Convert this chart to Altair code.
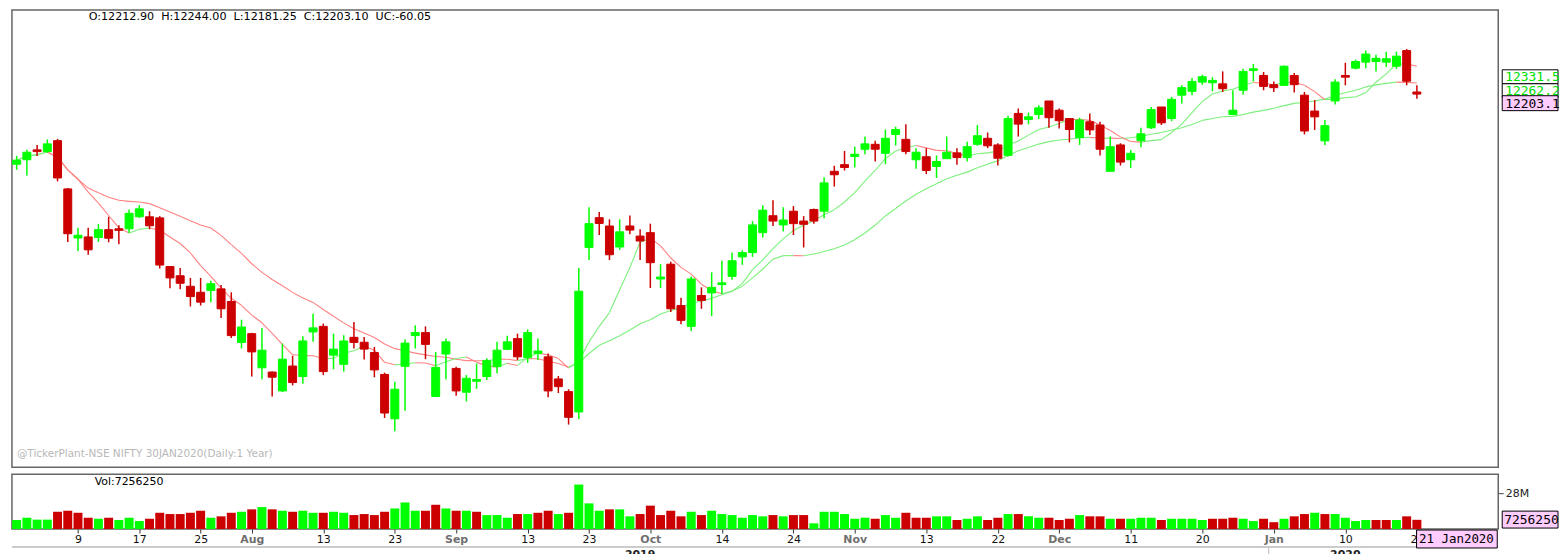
import altair as alt
import pandas as pd

# ---------------- data ----------------
opens = [11876, 11897, 11943, 11935, 11986, 11761, 11532, 11537, 11534, 11571,
         11575, 11575, 11631, 11631, 11626, 11399, 11356, 11307, 11279, 11287,
         11295, 11236, 11045, 11086, 10927, 10907, 10819, 10935, 10886, 11094,
         11120, 10986, 10943, 11069, 11046, 10998, 10896, 10689, 10934, 11077,
         11091, 10793, 10991, 10924, 10813, 10864, 10886, 10932, 11013, 11063,
         10974, 10994, 10978, 10875, 10816, 10721, 11488, 11627, 11588, 11490,
         11588, 11541, 11557, 11341, 11410, 11217, 11120, 11264, 11276, 11315,
         11353, 11444, 11464, 11557, 11636, 11593, 11657, 11611, 11665, 11657,
         11843, 11874, 11912, 11946, 11969, 11927, 12015, 11992, 11897, 11911,
         11866, 11902, 11929, 11907, 11969, 11997, 11966, 11917, 12113, 12085,
         12108, 12171, 12128, 12089, 12000, 12074, 12059, 11843, 11966, 11897,
         11986, 12046, 12143, 12089, 12198, 12216, 12259, 12256, 12251, 12108,
         12221, 12313, 12290, 12247, 12244, 12290, 12198, 12124, 11985, 12171,
         12290, 12324, 12352, 12355, 12352, 12333, 12406, 12212.90]
highs = [11915, 11944, 11966, 11992, 11994, 11765, 11580, 11580, 11598, 11631,
         11591, 11665, 11685, 11657, 11634, 11400, 11392, 11346, 11346, 11333,
         11313, 11279, 11151, 11090, 11112, 10910, 11040, 10983, 11074, 11179,
         11133, 11086, 11079, 11140, 11071, 11024, 10904, 10862, 11059, 11125,
         11120, 11001, 11063, 10932, 10893, 10947, 10971, 11048, 11076, 11086,
         11106, 11063, 10994, 10889, 10827, 11392, 11676, 11653, 11619, 11619,
         11637, 11573, 11599, 11410, 11421, 11253, 11352, 11302, 11372, 11426,
         11464, 11475, 11611, 11685, 11708, 11676, 11681, 11634, 11670, 11815,
         11869, 11938, 11958, 12005, 11986, 12038, 12051, 12062, 11951, 11951,
         11917, 12005, 11951, 11981, 12059, 12024, 11974, 12102, 12136, 12117,
         12151, 12171, 12136, 12089, 12093, 12113, 12074, 12005, 11974, 11943,
         12046, 12143, 12143, 12190, 12244, 12278, 12293, 12282, 12309, 12221,
         12321, 12344, 12306, 12262, 12336, 12301, 12213, 12175, 12082, 12272,
         12349, 12364, 12406, 12386, 12401, 12401, 12413, 12244.00]
lows = [11850, 11824, 11915, 11930, 11796, 11514, 11472, 11454, 11514, 11512,
        11503, 11557, 11626, 11573, 11390, 11298, 11293, 11213, 11217, 11233,
        11159, 11066, 11017, 10886, 10873, 10793, 10814, 10845, 10852, 11048,
        10893, 10920, 10909, 11017, 10966, 10883, 10693, 10631, 10727, 11017,
        10967, 10793, 10873, 10796, 10770, 10829, 10870, 10901, 11010, 10963,
        10950, 10963, 10790, 10809, 10662, 10688, 11429, 11546, 11429, 11477,
        11549, 11429, 11299, 11299, 11187, 11130, 11099, 11202, 11168, 11272,
        11337, 11407, 11444, 11534, 11588, 11562, 11546, 11488, 11599, 11624,
        11772, 11847, 11861, 11923, 11889, 11876, 11963, 11923, 11855, 11830,
        11812, 11902, 11874, 11889, 11962, 11951, 11870, 11912, 12005, 12062,
        12087, 12046, 12043, 11978, 11966, 12012, 11917, 11843, 11870, 11858,
        11955, 12040, 12059, 12077, 12159, 12198, 12247, 12216, 12213, 12108,
        12200, 12262, 12221, 12213, 12241, 12210, 12015, 12036, 11966, 12154,
        12244, 12318, 12324, 12309, 12329, 12321, 12244, 12181.25]
closes = [11895, 11932, 11935, 11971, 11812, 11552, 11545, 11477, 11571, 11531,
          11568, 11647, 11668, 11589, 11406, 11346, 11321, 11259, 11233, 11319,
          11202, 11077, 11117, 11001, 11009, 10883, 10967, 10858, 11052, 11113,
          10909, 11014, 11052, 11045, 11014, 10917, 10716, 10827, 11042, 11091,
          11036, 10929, 11048, 10819, 10878, 10872, 10961, 11009, 11048, 10978,
          11091, 11005, 10819, 10839, 10696, 11284, 11599, 11600, 11454, 11561,
          11569, 11518, 11417, 11350, 11202, 11148, 11341, 11241, 11302, 11323,
          11426, 11464, 11593, 11662, 11611, 11616, 11599, 11596, 11611, 11789,
          11827, 11861, 11923, 11971, 11946, 11997, 12038, 11935, 11932, 11847,
          11889, 11932, 11907, 11958, 12009, 11962, 11904, 12089, 12063, 12097,
          12139, 12093, 12079, 12038, 12082, 12036, 11946, 11958, 11886, 11927,
          12018, 12131, 12069, 12179, 12233, 12262, 12284, 12267, 12228, 12128,
          12309, 12321, 12239, 12233, 12333, 12247, 12031, 12097, 12056, 12259,
          12282, 12355, 12390, 12370, 12368, 12380, 12263.15, 12203.10]
volume_m = [7.1, 8.9, 7.4, 7.4, 13.6, 14.4, 12.8, 8.9, 8.1, 8.9,
            7.1, 8.9, 6.3, 8.1, 12.8, 11.8, 11.8, 12.8, 14.4, 8.9,
            10.0, 12.8, 13.6, 15.5, 17.3, 15.5, 14.4, 13.6, 14.4, 12.8,
            12.8, 13.6, 12.8, 11.0, 11.8, 11.0, 13.6, 16.2, 20.9, 14.4,
            14.4, 19.1, 16.2, 14.4, 14.4, 13.6, 11.0, 11.0, 8.9, 11.8,
            11.8, 12.8, 14.4, 11.8, 12.8, 35.0, 20.2, 14.4, 15.5, 15.5,
            10.0, 11.8, 18.4, 11.0, 14.4, 10.0, 13.6, 11.0, 14.4, 11.8,
            11.0, 8.9, 11.0, 10.0, 11.0, 10.0, 11.0, 11.0, 4.5, 13.6,
            13.6, 11.8, 8.1, 8.9, 8.1, 11.0, 8.9, 12.8, 8.9, 8.9,
            10.0, 10.0, 7.1, 8.1, 10.0, 7.1, 8.9, 11.8, 11.8, 10.0,
            8.9, 8.9, 7.1, 8.1, 11.0, 10.0, 10.0, 8.1, 8.1, 8.1,
            8.9, 8.9, 7.1, 8.1, 8.1, 8.1, 7.1, 8.1, 8.1, 8.9,
            8.1, 6.3, 8.1, 5.4, 8.1, 10.0, 11.8, 12.8, 11.8, 11.8,
            8.9, 6.3, 7.1, 7.1, 7.1, 7.1, 10.0, 7.25625]

tick_idx = [6, 12, 18, 23, 30, 37, 43, 50, 56, 62, 69, 76, 82, 89, 96,
            102, 109, 116, 123, 130, 137]
tick_lab = ["9", "17", "25", "Aug", "13", "23", "Sep", "13", "23", "Oct",
            "14", "24", "Nov", "13", "22", "Dec", "11", "20", "Jan", "10", "21"]
month_tick_idx = [23, 43, 62, 82, 102, 123]
price_ticks = [10500, 10750, 11000, 11250, 11500, 11750, 12000, 12250, 12500]
years = ["2019", "2020"]
year_mid_idx = [61, 130]
year_break_idx = [122.5]
ma_labels = ["12331.5", "12262.2"]
last_date = "21 Jan2020"
watermark = "@TickerPlant-NSE NIFTY 30JAN2020(Daily:1 Year)"

# ---------------- build ----------------
volumes = [v * 1e6 for v in volume_m]
df = pd.DataFrame({"idx": list(range(len(closes))), "open": opens, "high": highs,
                   "low": lows, "close": closes, "volume": volumes})

G, R = "#00ff00", "#cc0000"
LG, LR = "#7cf07c", "#ff8080"
FONT, MONO = "DejaVu Sans", "DejaVu Sans Mono"
W, HP, HV = 1492, 459, 55

xscale = alt.Scale(domain=[-0.46, 144.96], nice=False, zero=False, padding=0)
yscale = alt.Scale(domain=[10463, 12595], nice=False, zero=False)
vscale = alt.Scale(domain=[0, 43.1e6], nice=False)

one = pd.DataFrame({"k": [0]})
sort_idx = [alt.SortField("idx")]


def text(t, x, y, color="black", font=FONT, size=11, align="left",
         weight="normal", baseline="middle"):
    return alt.Chart(pd.DataFrame({"t": [t]})).mark_text(
        align=align, baseline=baseline, font=font, fontSize=size,
        fontWeight=weight, color=color
    ).encode(x=alt.value(x), y=alt.value(y), text="t:N")


def box(x0, x1, y0, y1, fill):
    return alt.Chart(one).mark_rect(fill=fill, stroke="black", strokeWidth=1).encode(
        x=alt.value(x0), x2=alt.value(x1), y=alt.value(y0), y2=alt.value(y1))


candle_color = alt.condition("datum.close >= datum.open", alt.value(G), alt.value(R))
xenc = alt.X("idx:Q", scale=xscale, axis=None)

price_axis = alt.Axis(orient="right", values=price_ticks, title=None, grid=False,
                      domain=False, tickSize=5, tickColor="#444", labelPadding=2,
                      labelFont=FONT, labelFontSize=11, labelColor="#222",
                      labelExpr="format(datum.value / 1000, '.2f') + 'K'")

base = alt.Chart(df)
wick = base.mark_rule(strokeWidth=1.5).encode(
    x=xenc, y=alt.Y("low:Q", scale=yscale, axis=price_axis), y2="high:Q",
    color=candle_color)
body = base.mark_bar(size=8, strokeWidth=1).encode(
    x=xenc, y=alt.Y("open:Q", scale=yscale, axis=None), y2="close:Q",
    color=candle_color, stroke=candle_color)

ma_base = (base
           .transform_window(ma_s="mean(close)", frame=[-6, 0], sort=sort_idx)
           .transform_window(ma_l="mean(close)", frame=[-19, 0], sort=sort_idx)
           .transform_window(ma_sn="lead(ma_s)", ma_ln="lead(ma_l)", sort=sort_idx)
           .transform_calculate(idxn="datum.idx + 1")
           .transform_filter("isValid(datum.ma_sn)"))


def ma_rule(f):
    return ma_base.mark_rule(strokeWidth=1.1).encode(
        x=xenc, x2="idxn:Q",
        y=alt.Y(f + ":Q", scale=yscale, axis=None), y2=f + "n:Q",
        color=alt.condition(f"datum.{f}n >= datum.{f}", alt.value(LG), alt.value(LR)))


o, h, l, c = opens[-1], highs[-1], lows[-1], closes[-1]
sp = "\u00a0\u00a0"
header = (f"O:{o:.2f}{sp}H:{h:.2f}{sp}L:{l:.2f}{sp}C:{c:.2f}{sp}"
          f"UC:{c - closes[-2]:.2f}")

price = alt.layer(
    ma_rule("ma_l"), ma_rule("ma_s"), wick, body,
    text(header, 77, 7, size=11.2),
    text(watermark, 5, 446, color="#b8b8b8", size=10.5),
    box(1496, 1552, 60, 74, "white"),
    text(ma_labels[0], 1499, 67, color="#00dd00", font=MONO, size=13),
    box(1496, 1552, 74, 88, "white"),
    text(ma_labels[1], 1499, 81, color="#00dd00", font=MONO, size=13),
    box(1496, 1552, 86, 101, "#ffccff"),
    text(f"{c:.1f}", 1499, 94, font=MONO, size=13),
).properties(width=W, height=HP)

# ---------------- volume panel ----------------
lab_arr = "[" + ",".join(f"'{t}'" for t in tick_lab) + "]"
idx_arr = "[" + ",".join(str(i) for i in tick_idx) + "]"
month_arr = "[" + ",".join(str(i) for i in month_tick_idx) + "]"
month_test = f"indexof({month_arr}, datum.value) >= 0"

xaxis = alt.Axis(values=tick_idx, labelExpr=f"{lab_arr}[indexof({idx_arr}, datum.value)]",
                 title=None, grid=False, domain=False, tickSize=4, tickColor="#333",
                 labelPadding=1, labelFont=FONT, labelFontSize=11,
                 labelFlush=False, labelOverlap=False,
                 labelColor={"condition": {"test": month_test, "value": "#707070"},
                             "value": "#111111"},
                 labelFontWeight={"condition": {"test": month_test, "value": "bold"},
                                  "value": "normal"})
vaxis = alt.Axis(orient="right", values=[28e6], labelExpr="'28M'", title=None,
                 grid=False, domain=False, tickSize=5, tickColor="#444",
                 labelPadding=2, labelFont=FONT, labelFontSize=11, labelColor="#222")

vol_bars = (base
            .transform_window(prev="lag(close)", sort=sort_idx)
            .transform_calculate(up="!isValid(datum.prev) || datum.close >= datum.prev")
            .mark_bar(size=9)
            .encode(x=alt.X("idx:Q", scale=xscale, axis=xaxis),
                    y=alt.Y("volume:Q", scale=vscale, axis=vaxis),
                    color=alt.condition("datum.up", alt.value(G), alt.value(R))))

sep = alt.Chart(one).mark_rule(color="#cccccc", strokeWidth=2).encode(
    x=alt.value(0), x2=alt.value(W), y=alt.value(73))
ybreak = alt.Chart(pd.DataFrame({"idx": year_break_idx})).mark_rule(
    color="#bbbbbb", strokeWidth=1).encode(
    x=alt.X("idx:Q", scale=xscale), y=alt.value(73), y2=alt.value(84))
year_txt = alt.Chart(pd.DataFrame({"idx": year_mid_idx, "t": years})).mark_text(
    baseline="top", font=FONT, fontSize=11, fontWeight="bold", color="#222").encode(
    x=alt.X("idx:Q", scale=xscale), y=alt.value(75), text="t:N")

volume = alt.layer(
    vol_bars,
    text(f"Vol:{int(round(volumes[-1]))}", 83, 8),
    box(1496, 1552, 37, 54, "#ffccff"),
    text(f"{int(round(volumes[-1]))}", 1498, 46, font=MONO, size=13),
    sep, ybreak, year_txt,
    box(1410, 1491, 56, 74, "#ffccff"),
    text(last_date, 1450, 65, font=MONO, size=12.5, align="center"),
).properties(width=W, height=HV)

chart = (alt.vconcat(price, volume, spacing=5)
         .properties(padding={"left": 10, "top": 8, "right": 0, "bottom": 0},
                     background="white")
         .configure_view(stroke="#666666", strokeWidth=1.5)
         .configure_concat(spacing=5))

chart.save("out.html", embed_options={"renderer": "svg", "actions": False})
